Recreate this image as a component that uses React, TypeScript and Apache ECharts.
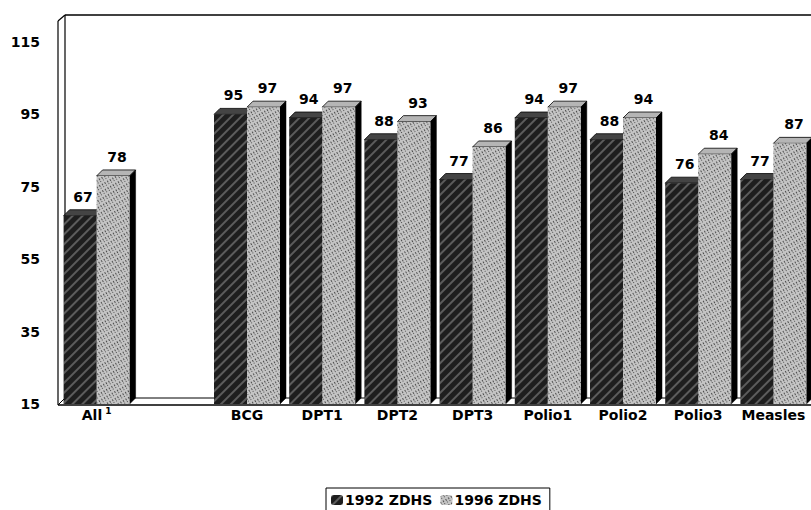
import React, { useEffect, useRef } from "react";
import * as echarts from "echarts";

const categories = ["All", "", "BCG", "DPT1", "DPT2", "DPT3", "Polio1", "Polio2", "Polio3", "Measles"];
const values1992: (number | string)[] = [67, "-", 95, 94, 88, 77, 94, 88, 76, 77];
const values1996: (number | string)[] = [78, "-", 97, 97, 93, 86, 97, 94, 84, 87];
const seriesNames = ["1992 ZDHS", "1996 ZDHS"];
const yTicks = { min: 15, max: 115, interval: 20 };

const FONT = "DejaVu Sans";
const BAR_W = 33;
const DEPTH = 6;

export default function App() {
  const ref = useRef<HTMLDivElement>(null);
  useEffect(() => {
    if (!ref.current) return;
    const chart = echarts.init(ref.current, undefined, { renderer: "svg" });

    const make3D = (sIdx: number, vals: (number | string)[]) => ({
      type: "custom",
      z: 1,
      silent: true,
      legendHoverLink: false,
      tooltip: { show: false },
      data: vals.map((v, i) => [i, v]),
      renderItem: (params: any, api: any) => {
        const ci = api.value(0);
        const v = api.value(1);
        if (isNaN(v)) return null;
        const p = api.coord([ci, v]);
        const base = api.coord([ci, yTicks.min])[1];
        const x0 = p[0] + (sIdx === 0 ? -BAR_W : 0);
        const x1 = x0 + BAR_W;
        const y = p[1];
        const d = DEPTH;
        return {
          type: "group",
          children: [
            {
              type: "polygon",
              shape: { points: [[x0, y], [x0 + d, y - d], [x1 + d, y - d], [x1, y]] },
              style: { fill: sIdx === 0 ? "#444" : "#b5b5b5", stroke: "#000", lineWidth: 0.8 },
            },
            {
              type: "polygon",
              shape: { points: [[x1, y], [x1 + d, y - d], [x1 + d, base - d], [x1, base]] },
              style: { fill: "#000", stroke: "#000", lineWidth: 0.5 },
            },
          ],
        };
      },
    });

    const labelStyle = {
      show: true,
      position: "top",
      color: "#000",
      fontFamily: FONT,
      fontWeight: "bold",
      fontSize: 14,
    };

    chart.setOption({
      animation: false,
      backgroundColor: "#fff",
      grid: { left: 59, top: 42, width: 755, height: 362 },
      xAxis: {
        type: "category",
        data: categories,
        axisLine: { show: false },
        axisTick: { show: false },
        axisLabel: {
          interval: 0,
          margin: 2,
          color: "#000",
          formatter: (v: string) => (v === "All" ? "{a|All}{s|1}" : "{a|" + v + "}"),
          rich: {
            a: { fontFamily: FONT, fontWeight: "bold", fontSize: 14, lineHeight: 16, padding: [11, 0, 0, 0], verticalAlign: "bottom" },
            s: { fontFamily: FONT, fontWeight: "bold", fontSize: 9, lineHeight: 9, padding: [0, 0, 0, 3], verticalAlign: "top" },
          },
        },
      },
      yAxis: {
        type: "value",
        min: yTicks.min,
        max: yTicks.max,
        interval: yTicks.interval,
        axisLine: { show: false },
        axisTick: { show: false },
        splitLine: { show: false },
        axisLabel: {
          margin: 19,
          color: "#000",
          fontFamily: FONT,
          fontWeight: "bold",
          fontSize: 14,
        },
      },
      legend: {
        left: 326,
        top: 488,
        data: seriesNames,
        borderColor: "#000",
        borderWidth: 1,
        borderRadius: 0,
        padding: [5, 8, 5, 5],
        itemWidth: 12,
        itemHeight: 10,
        itemGap: 8,
        textStyle: { fontFamily: FONT, fontWeight: "bold", fontSize: 14, color: "#000", padding: [0, 0, 0, -3] },
      },
      graphic: [
        { type: "line", z: 0, shape: { x1: 58, y1: 21, x2: 58, y2: 405 }, style: { stroke: "#000", lineWidth: 1.2 } },
        { type: "line", z: 0, shape: { x1: 65, y1: 15, x2: 65, y2: 398 }, style: { stroke: "#000", lineWidth: 1.2 } },
        { type: "line", z: 0, shape: { x1: 58, y1: 21, x2: 65, y2: 15 }, style: { stroke: "#000", lineWidth: 1.2 } },
        { type: "line", z: 0, shape: { x1: 65, y1: 15, x2: 811, y2: 15 }, style: { stroke: "#000", lineWidth: 1.5 } },
        { type: "line", z: 0, shape: { x1: 58, y1: 405, x2: 811, y2: 405 }, style: { stroke: "#000", lineWidth: 1.5 } },
        { type: "line", z: 0, shape: { x1: 65, y1: 398, x2: 811, y2: 398 }, style: { stroke: "#000", lineWidth: 1 } },
        { type: "line", z: 0, shape: { x1: 58, y1: 405, x2: 65, y2: 398 }, style: { stroke: "#000", lineWidth: 1 } },
      ],
      series: [
        {
          name: seriesNames[0],
          type: "bar",
          z: 2,
          barWidth: BAR_W,
          barGap: "0%",
          data: values1992,
          itemStyle: {
            color: "#1e1e1e",
            decal: {
              symbol: "rect",
              symbolSize: 0.9,
              dashArrayX: [1, 0],
              dashArrayY: [2, 5],
              rotation: -Math.PI / 4,
              color: "rgba(255,255,255,0.3)",
            },
          },
          label: { ...labelStyle, offset: [3, -7] },
        },
        {
          name: seriesNames[1],
          type: "bar",
          z: 2,
          barWidth: BAR_W,
          barGap: "0%",
          data: values1996,
          itemStyle: {
            color: "#c4c4c4",
            decal: {
              symbol: "rect",
              symbolSize: 1,
              dashArrayX: [[2, 1, 1, 2]],
              dashArrayY: [1, 1.5],
              rotation: Math.PI / 3,
              color: "rgba(0,0,0,0.6)",
            },
          },
          label: { ...labelStyle, offset: [4, -7] },
        },
        make3D(0, values1992),
        make3D(1, values1996),
      ],
    });
    return () => chart.dispose();
  }, []);
  return <div ref={ref} style={{ position: "fixed", left: 0, top: 0, width: 811, height: 510 }} />;
}
